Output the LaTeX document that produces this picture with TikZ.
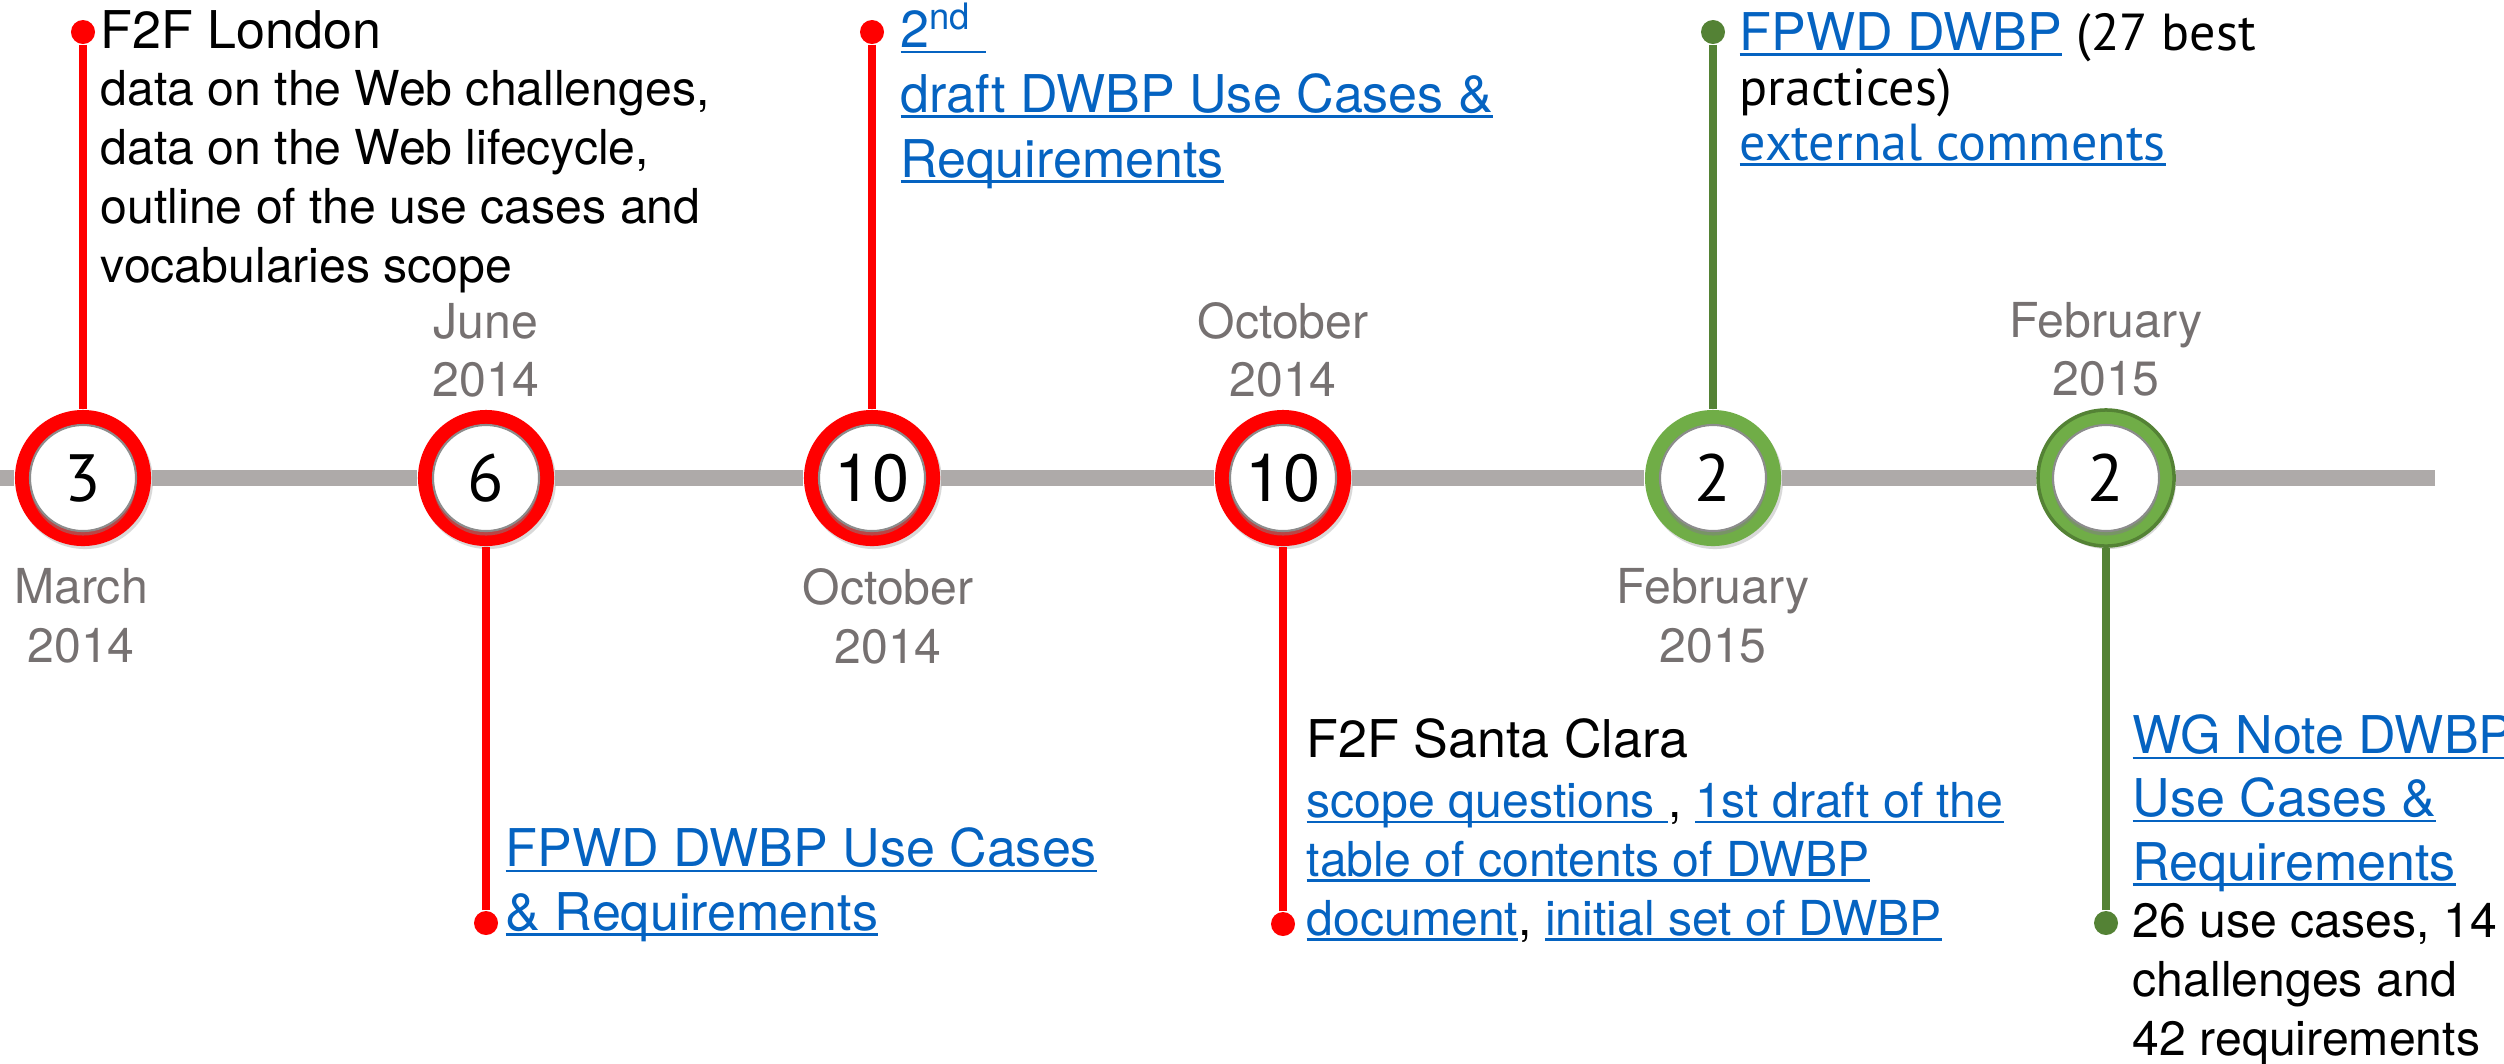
\documentclass[tikz,border=0pt]{standalone}
\usepackage{fontspec}
\setmainfont{TeX Gyre Heros}
\newfontfamily\humanist{PT Sans}
\usetikzlibrary{
  positioning,
  calc,
  shadows}

\definecolor{stemred}{RGB}{255,0,0}
\definecolor{ringgreen}{RGB}{112,173,71}
\definecolor{stemgreen}{RGB}{84,130,53}
\definecolor{linkblue}{RGB}{5,99,193}
\definecolor{datecolor}{RGB}{118,113,113}
\definecolor{linecolor}{RGB}{174,170,169}

%% underlined hyperlink text
\newsavebox{\linkbox}
\newcommand{\weblink}[1]{{\color{linkblue}%
  \sbox{\linkbox}{#1}%
  \rlap{\rule[-1.6pt]{\wd\linkbox}{0.7pt}}\usebox{\linkbox}}}

\newcommand{\datefont}{\fontsize{13.7}{16.7}\selectfont}
\newcommand{\notefont}{\fontsize{13.7}{16.7}\selectfont}
\newcommand{\titlefont}{\fontsize{14.8}{17.9}\selectfont}
\newcommand{\linkfont}{\fontsize{14.8}{18.0}\selectfont}
\newcommand{\numfont}{\fontsize{19}{22}\selectfont}

\tikzset{
  %% ring : coloured disc of a milestone
  ring/.style={
    circle,
    minimum size=1.36cm,
    inner sep=0pt,
    drop shadow={opacity=0.3, shadow xshift=0.02cm, shadow yshift=-0.03cm}
  },
  %% disk : white disc with the count
  disk/.style={
    circle,
    minimum size=1.06cm,
    inner sep=0pt,
    draw=black!45,
    line width=0.6pt,
    fill=white,
    font=\numfont,
    drop shadow={opacity=0.55, shadow xshift=0cm, shadow yshift=-0.045cm}
  },
  %% dot : end of a stem
  dot/.style={
    circle,
    minimum size=0.24cm,
    inner sep=0pt
  },
  %% stem : line from milestone to its dot
  stem/.style={line width=0.08cm},
  %% timeline : the grey axis
  timeline/.style={linecolor, line width=0.16cm},
  %% date : month and year
  date/.style={
    datecolor,
    font=\datefont,
    align=center
  },
  %% title, note, links : text beside the dots
  %% (base of a multi-line node is its last line)
  title/.style={anchor=base west, font=\titlefont},
  note/.style={anchor=base west, font=\notefont, align=left},
  links/.style={anchor=base west, font=\linkfont, align=left}
}

\begin{document}
\begin{tikzpicture}
  [x=0.01cm,
  y=-0.01cm,
  inner sep=0pt]

  \useasboundingbox (0, 0) rectangle (2504, 1063);

  %% Milestones
  \node (m1) [ring, fill=stemred] at (83, 478) {};
  \node (m1-in) [disk] at (m1) {\humanist 3};

  \node (m2) [ring, fill=stemred] at (486, 478) {};
  \node (m2-in) [disk] at (m2) {\humanist 6};

  \node (m3) [ring, fill=stemred] at (872, 478) {};
  \node (m3-in) [disk] at (m3) {10};

  \node (m4) [ring, fill=stemred] at (1283, 478) {};
  \node (m4-in) [disk] at (m4) {10};

  \node (m5) [ring, fill=ringgreen] at (1713, 478) {};
  \node (m5-in) [disk] at (m5) {\humanist 2};

  \node (m6) [ring, fill=ringgreen, draw=stemgreen, line width=1pt]
  at (2106, 478) {};
  \node (m6-in) [disk] at (m6) {\humanist 2};

  %% Timeline
  \coordinate (tl-start) at (0, 478);
  \coordinate (tl-end) at (2435, 478);
  \foreach \a/\b in {tl-start/m1, m1/m2, m2/m3, m3/m4, m4/m5, m5/m6, m6/tl-end}
    \draw [timeline] (\a) -- (\b);

  %% Dates
  \node (mar14) [date, below=0.21cm of m1, xshift=-0.02cm] {March\\2014};
  \node (jun14) [date, above=0.11cm of m2] {June\\2014};
  \node (oct14a) [date, below=0.21cm of m3, xshift=0.16cm] {October\\2014};
  \node (oct14b) [date, above=0.11cm of m4] {October\\2014};
  \node (feb15a) [date, below=0.21cm of m5] {February\\2015};
  \node (feb15b) [date, above=0.11cm of m6] {February\\2015};

  %% Stems
  \node (d1) [dot, fill=stemred] at (83, 32) {};
  \draw [stem, stemred] (d1) -- (m1);

  \node (d2) [dot, fill=stemred] at (486, 923) {};
  \draw [stem, stemred] (d2) -- (m2);

  \node (d3) [dot, fill=stemred] at (872, 32) {};
  \draw [stem, stemred] (d3) -- (m3);

  \node (d4) [dot, fill=stemred] at (1283, 924) {};
  \draw [stem, stemred] (d4) -- (m4);

  \node (d5) [dot, fill=stemgreen] at (1713, 32) {};
  \draw [stem, stemgreen] (d5) -- (m5);

  \node (d6) [dot, fill=stemgreen] at (2106, 923) {};
  \draw [stem, stemgreen] (d6) -- (m6);

  %% Texts
  \node (london) [title] at (100, 48) {F2F London};
  \node (londonnotes) [note] at ($(london.base west) + (0, 234)$) {%
    data on the Web challenges,\\
    data on the Web lifecycle,\\
    outline of the use cases and\\
    vocabularies scope
  };

  \node (fpwd) [links] at (505, 930) {%
    \weblink{FPWD DWBP Use Cases}\\
    \weblink{\& Requirements}
  };

  \node (draft) [links, font=\fontsize{14.8}{18.4}\selectfont] at (900, 177) {%
    \weblink{2\textsuperscript{nd}\ }\\
    \weblink{draft DWBP Use Cases \&}\\
    \weblink{Requirements}
  };

  \node (santaclara) [title] at (1306, 757) {F2F Santa Clara};
  \node (santanotes) [note] at ($(santaclara.base west) + (0, 178)$) {%
    \weblink{scope questions\ }, \weblink{1st draft of the}\\
    \weblink{table of contents of DWBP}\\
    \weblink{document}, \weblink{initial set of DWBP}
  };

  \node (fpwdbp) [links, font=\fontsize{14.8}{15.6}\selectfont] at (1739, 160) {%
    \weblink{FPWD DWBP} {\humanist (27 best}\\
    {\humanist practices)}\\
    {\humanist\weblink{external comments}}
  };

  \node (wgnote) [links] at (2132, 880) {%
    \weblink{WG Note DWBP}\\
    \weblink{Use Cases \&}\\
    \weblink{Requirements}
  };
  \node (wgnotes) [note] at ($(wgnote.base west) + (0, 175)$) {%
    26 use cases, 14\\
    challenges and\\
    42 requirements
  };

\end{tikzpicture}
\end{document}
